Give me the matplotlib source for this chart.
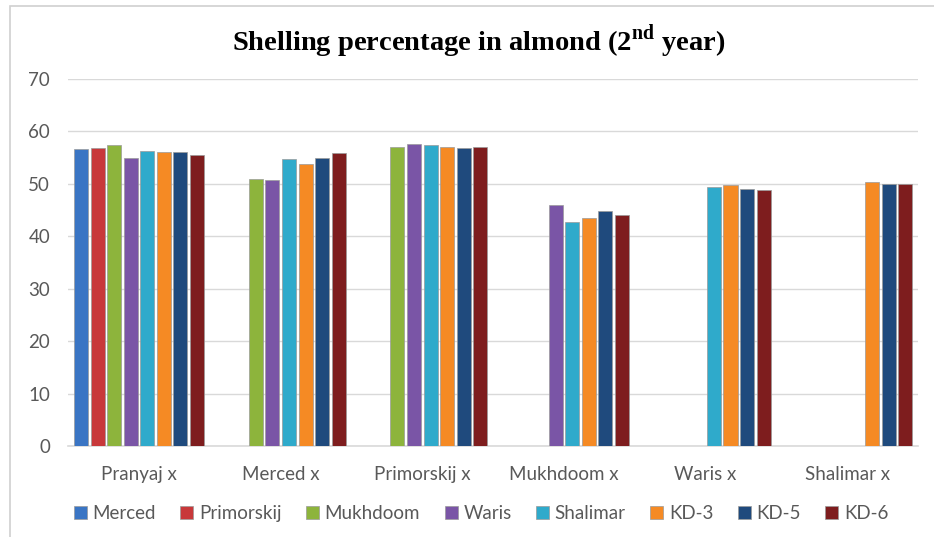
import matplotlib.pyplot as plt
import matplotlib.patches as mpatches
import numpy as np

groups = ["Pranyaj x", "Merced x", "Primorskij x", "Mukhdoom x", "Waris x", "Shalimar x"]
varieties = ["Merced", "Primorskij", "Mukhdoom", "Waris", "Shalimar", "KD-3", "KD-5", "KD-6"]
colors = ["#3A75C4", "#C8383A", "#8DB43C", "#7A55A6", "#2FAACB", "#F58A24", "#1F4A7D", "#7E1D1E"]

nan = np.nan
merced = [56.7, nan, nan, nan, nan, nan]
primorskij = [56.9, nan, nan, nan, nan, nan]
mukhdoom = [57.5, 51.0, 57.1, nan, nan, nan]
waris = [55.0, 50.8, 57.6, 45.9, nan, nan]
shalimar = [56.3, 54.7, 57.5, 42.7, 49.5, nan]
kd3 = [56.1, 53.8, 57.1, 43.5, 49.7, 50.4]
kd5 = [56.1, 55.0, 56.9, 44.9, 49.0, 49.9]
kd6 = [55.5, 55.8, 57.1, 44.1, 48.8, 49.9]
series = [merced, primorskij, mukhdoom, waris, shalimar, kd3, kd5, kd6]

plt.rcParams["mathtext.fontset"] = "custom"
plt.rcParams["mathtext.rm"] = "Liberation Serif"
plt.rcParams["mathtext.bf"] = "Liberation Serif:bold"

sans = ["Lato", "DejaVu Sans"]

fig = plt.figure(figsize=(9.34, 5.37), dpi=100)
ax = fig.add_axes([0.073, 0.169, 0.910, 0.684])

x = np.arange(len(groups))
slot = 0.117
width = 0.099
for i, vals in enumerate(series):
    offs = (i - 3.5) * slot
    ax.bar(x + offs, vals, width, color=colors[i], edgecolor="#9a9a9a", linewidth=0.5,
           label=varieties[i], zorder=3)

ax.set_xlim(-0.5, len(groups) - 0.5)
ax.set_ylim(0, 70)
ax.set_yticks(range(0, 71, 10))
ax.set_xticks(x)
ax.set_xticklabels(groups)
ax.grid(axis="y", color="#D9D9D9", linewidth=1, zorder=0)
for s in ["top", "right", "left"]:
    ax.spines[s].set_visible(False)
ax.spines["bottom"].set_color("#D9D9D9")
ax.spines["bottom"].set_linewidth(1.2)
ax.tick_params(axis="both", length=0, colors="#595959", labelsize=13.5)
ax.tick_params(axis="x", pad=14)
ax.tick_params(axis="y", pad=13)
for lbl in ax.get_xticklabels() + ax.get_yticklabels():
    lbl.set_family(sans)

fig.text(0.512, 0.924, r"Shelling percentage in almond (2$^{\mathbf{nd}}$ year)",
         ha="center", va="center", fontsize=20.5, fontweight="bold",
         family=["Liberation Serif", "DejaVu Serif"])

handles = [mpatches.Patch(facecolor=c, edgecolor="#9a9a9a", linewidth=0.5) for c in colors]
fig.legend(handles, varieties, loc="center", bbox_to_anchor=(0.515, 0.043), ncol=8,
           frameon=False, handlelength=0.7, handleheight=0.7, handletextpad=0.3,
           columnspacing=1.3, prop={"family": sans, "size": 13.5},
           labelcolor="#595959")

fig.patches.append(mpatches.Rectangle((0.011, -0.05), 1.1, 1.038, transform=fig.transFigure,
                                      fill=False, edgecolor="#D0D0D0", linewidth=1.2))

plt.savefig("out.png", dpi=100)
